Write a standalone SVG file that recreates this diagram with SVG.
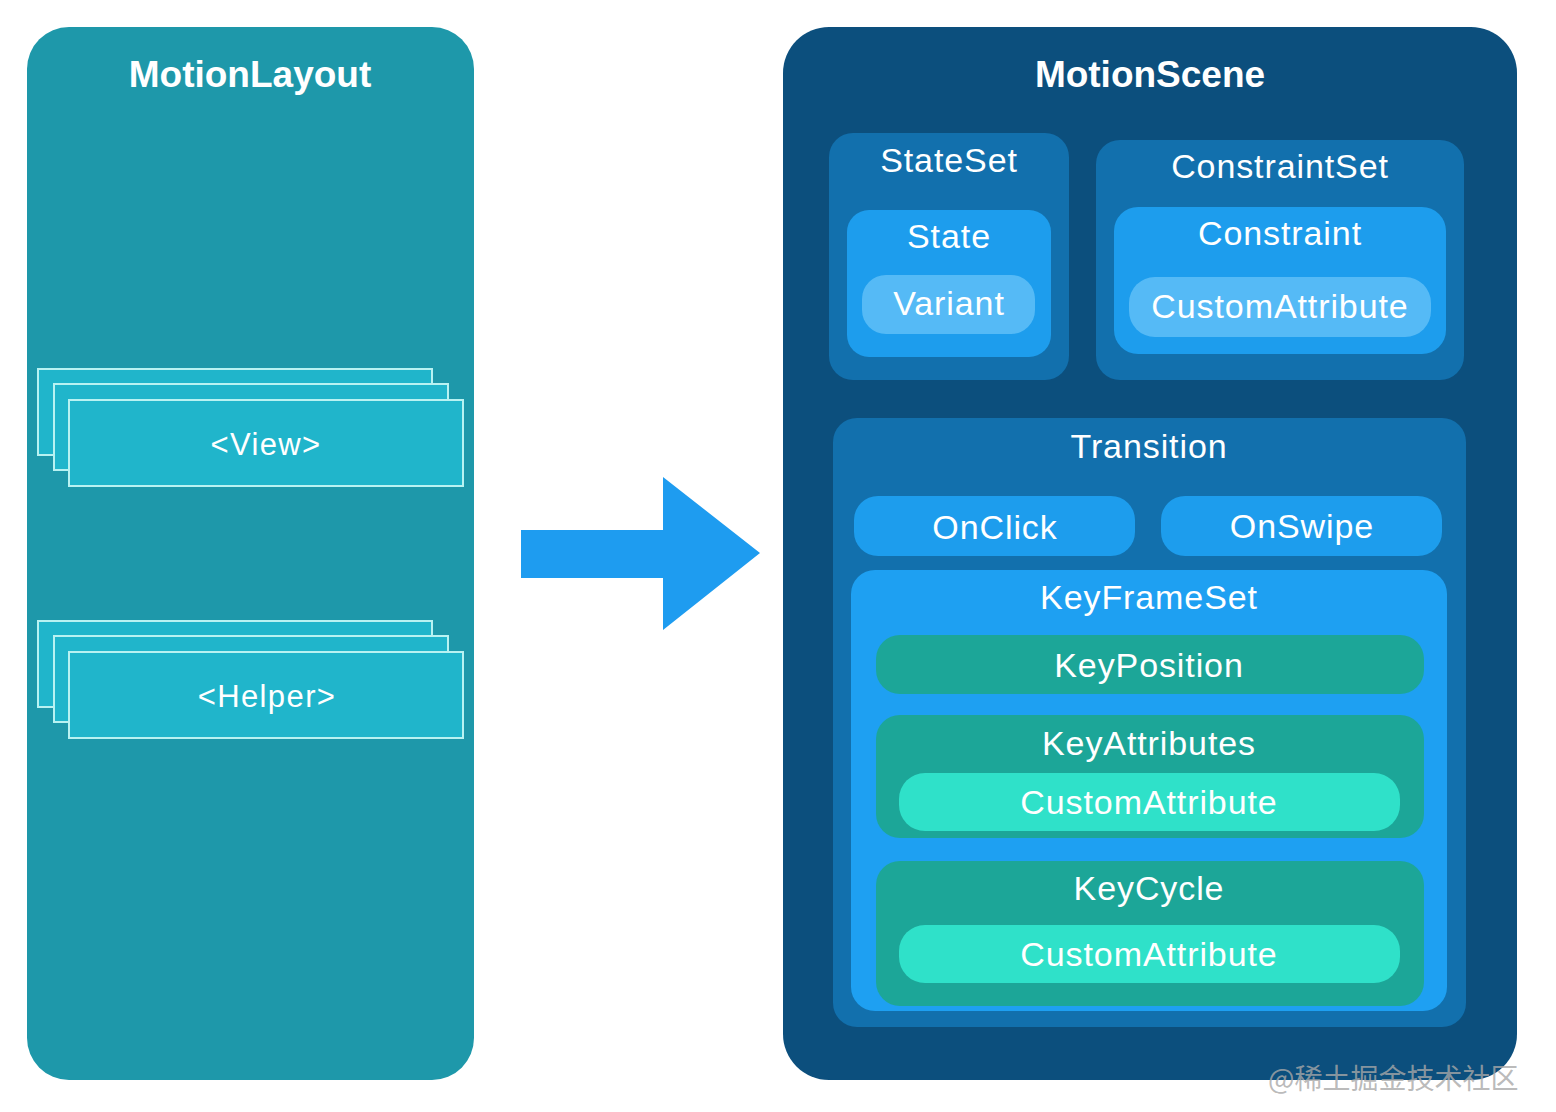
<svg xmlns="http://www.w3.org/2000/svg" width="1556" height="1112" viewBox="0 0 1556 1112">
<style>
text{font-family:"Liberation Sans",Arial,sans-serif;fill:#ffffff;text-anchor:middle}
.title{font-size:37px;font-weight:bold}
.lbl{font-size:34px;letter-spacing:0.9px}
.vlbl{font-size:31px;letter-spacing:1.4px}
.view{fill:#20b5cb;stroke:#b8f2f2;stroke-width:2}
.set{fill:#1270ad}
.mid{fill:#1d9ded}
.light{fill:#55baf6}
.kfs{fill:#1ea0f2}
.teal{fill:#1ca698}
.lteal{fill:#2fe1c9}
.wm{font-family:"Noto Sans CJK SC","Liberation Sans",sans-serif;font-size:28px;fill:#a8a8a8;fill-opacity:0.8;text-anchor:start}
</style>
<rect width="1556" height="1112" fill="#ffffff"/>
<g id="motionlayout">
<rect x="27" y="27" width="447" height="1053" rx="42" fill="#1e98aa"/>
<text class="title" x="250" y="87">MotionLayout</text>
</g>
<g id="view">
<rect class="view" x="38" y="369" width="394" height="86"/>
<rect class="view" x="54" y="384" width="394" height="86"/>
<rect class="view" x="69" y="400" width="394" height="86"/>
<text class="vlbl" x="266" y="455">&lt;View&gt;</text>
</g>
<g id="helper">
<rect class="view" x="38" y="621" width="394" height="86"/>
<rect class="view" x="54" y="636" width="394" height="86"/>
<rect class="view" x="69" y="652" width="394" height="86"/>
<text class="vlbl" x="267" y="707">&lt;Helper&gt;</text>
</g>
<g id="connectors">
<polygon points="521,530 663,530 663,477 760,553 663,630 663,578 521,578" fill="#1e9cf0"/>
</g>
<g id="motionscene">
<rect x="783" y="27" width="734" height="1053" rx="46" fill="#0c4f7d"/>
<text class="title" x="1150" y="87">MotionScene</text>
</g>
<g id="stateset">
<rect class="set" x="829" y="133" width="240" height="247" rx="24"/>
<text class="lbl" x="949" y="172">StateSet</text>
</g>
<g id="state">
<rect class="mid" x="847" y="210" width="204" height="147" rx="22"/>
<text class="lbl" x="949" y="248">State</text>
</g>
<g id="variant">
<rect class="light" x="862" y="275" width="173" height="59" rx="24"/>
<text class="lbl" x="949" y="315">Variant</text>
</g>
<g id="constraintset">
<rect class="set" x="1096" y="140" width="368" height="240" rx="24"/>
<text class="lbl" x="1280" y="178">ConstraintSet</text>
</g>
<g id="constraint">
<rect class="mid" x="1114" y="207" width="332" height="147" rx="24"/>
<text class="lbl" x="1280" y="245">Constraint</text>
</g>
<g id="customattribute1">
<rect class="light" x="1129" y="277" width="302" height="60" rx="26"/>
<text class="lbl" x="1280" y="318">CustomAttribute</text>
</g>
<g id="transition">
<rect class="set" x="833" y="418" width="633" height="609" rx="24"/>
<text class="lbl" x="1149" y="458">Transition</text>
</g>
<g id="onclick">
<rect class="mid" x="854" y="496" width="281" height="60" rx="24"/>
<text class="lbl" x="995" y="539">OnClick</text>
</g>
<g id="onswipe">
<rect class="mid" x="1161" y="496" width="281" height="60" rx="24"/>
<text class="lbl" x="1302" y="538">OnSwipe</text>
</g>
<g id="keyframeset">
<rect class="kfs" x="851" y="570" width="596" height="441" rx="24"/>
<text class="lbl" x="1149" y="609">KeyFrameSet</text>
</g>
<g id="keyposition">
<rect class="teal" x="876" y="635" width="548" height="59" rx="24"/>
<text class="lbl" x="1149" y="677">KeyPosition</text>
</g>
<g id="keyattributes">
<rect class="teal" x="876" y="715" width="548" height="123" rx="24"/>
<text class="lbl" x="1149" y="755">KeyAttributes</text>
</g>
<g id="customattribute2">
<rect class="lteal" x="899" y="773" width="501" height="58" rx="26"/>
<text class="lbl" x="1149" y="814">CustomAttribute</text>
</g>
<g id="keycycle">
<rect class="teal" x="876" y="861" width="548" height="145" rx="24"/>
<text class="lbl" x="1149" y="900">KeyCycle</text>
</g>
<g id="customattribute3">
<rect class="lteal" x="899" y="925" width="501" height="58" rx="26"/>
<text class="lbl" x="1149" y="966">CustomAttribute</text>
</g>
<text class="wm" x="1268" y="1089">@稀土掘金技术社区</text>
</svg>
